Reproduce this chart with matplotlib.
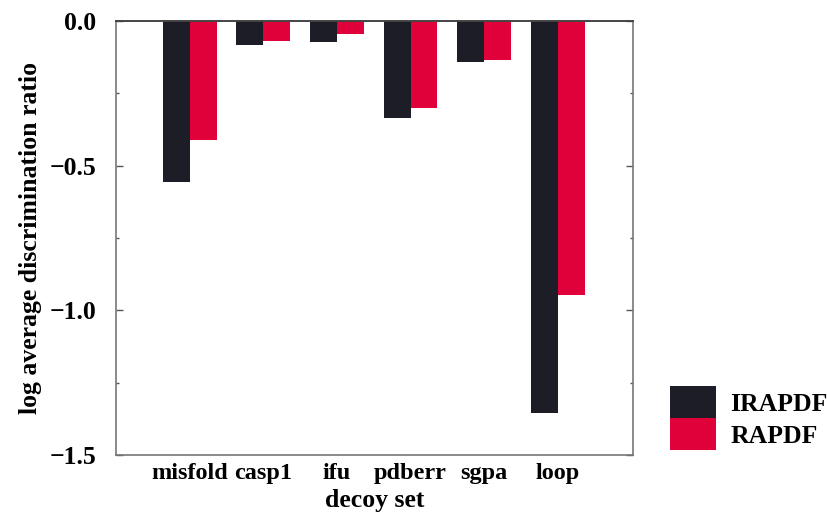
import numpy as np
import matplotlib
matplotlib.use("Agg")
import matplotlib.pyplot as plt
from matplotlib.ticker import MultipleLocator, FixedLocator

# data
decoy_sets = ["misfold", "casp1", "ifu", "pdberr", "sgpa", "loop"]
irapdf = [-0.556, -0.083, -0.071, -0.336, -0.143, -1.355]
rapdf = [-0.410, -0.070, -0.044, -0.300, -0.136, -0.947]

dark = "#1c1d27"
red = "#e0003a"

plt.rcParams["font.family"] = ["Liberation Serif", "DejaVu Serif"]
plt.rcParams["font.weight"] = "bold"
plt.rcParams["axes.unicode_minus"] = True

fig = plt.figure(figsize=(8.27, 5.15), dpi=100)
ax = fig.add_axes([0.1403, 0.1165, 0.6251, 0.8427])

x = np.arange(1, len(decoy_sets) + 1)
w = 0.365
ax.bar(x - w / 2, irapdf, width=w, color=dark, label="IRAPDF", linewidth=0)
ax.bar(x + w / 2, rapdf, width=w, color=red, label="RAPDF", linewidth=0)

ax.set_xlim(0, 7.02)
ax.set_ylim(-1.5, 0.0)
ax.set_xticks(x)
ax.set_xticklabels(decoy_sets, fontsize=17.5, fontweight="bold")
ax.tick_params(axis="x", length=0, pad=6)

ax.yaxis.set_major_locator(FixedLocator([0.0, -0.5, -1.0, -1.5]))
ax.yaxis.set_minor_locator(MultipleLocator(0.25))
ax.set_yticklabels(["0.0", "\u22120.5", "\u22121.0", "\u22121.5"], fontsize=18.5, fontweight="bold")
ax.tick_params(axis="y", which="major", direction="in", length=5, width=1, color="#555555",
               right=True, pad=14)
ax.tick_params(axis="y", which="minor", direction="in", length=2.5, width=1, color="#555555",
               right=True)

for side in ["left", "right", "bottom"]:
    ax.spines[side].set_color("#777777")
    ax.spines[side].set_linewidth(1.2)
ax.spines["top"].set_color("#444444")
ax.spines["top"].set_linewidth(1.4)

ax.set_xlabel("decoy set", fontsize=18.5, fontweight="bold", labelpad=3)
ax.set_ylabel("log average discrimination ratio", fontsize=18.5, fontweight="bold", labelpad=6)

ax.legend(loc="upper left", bbox_to_anchor=(0.810, 0.2505), bbox_transform=fig.transFigure,
          frameon=False, prop={"weight": "bold", "size": 18.5},
          handlelength=1.8, handleheight=1.55, labelspacing=0, handletextpad=0.55,
          borderpad=0, borderaxespad=0)

fig.savefig("out.png", dpi=100)
